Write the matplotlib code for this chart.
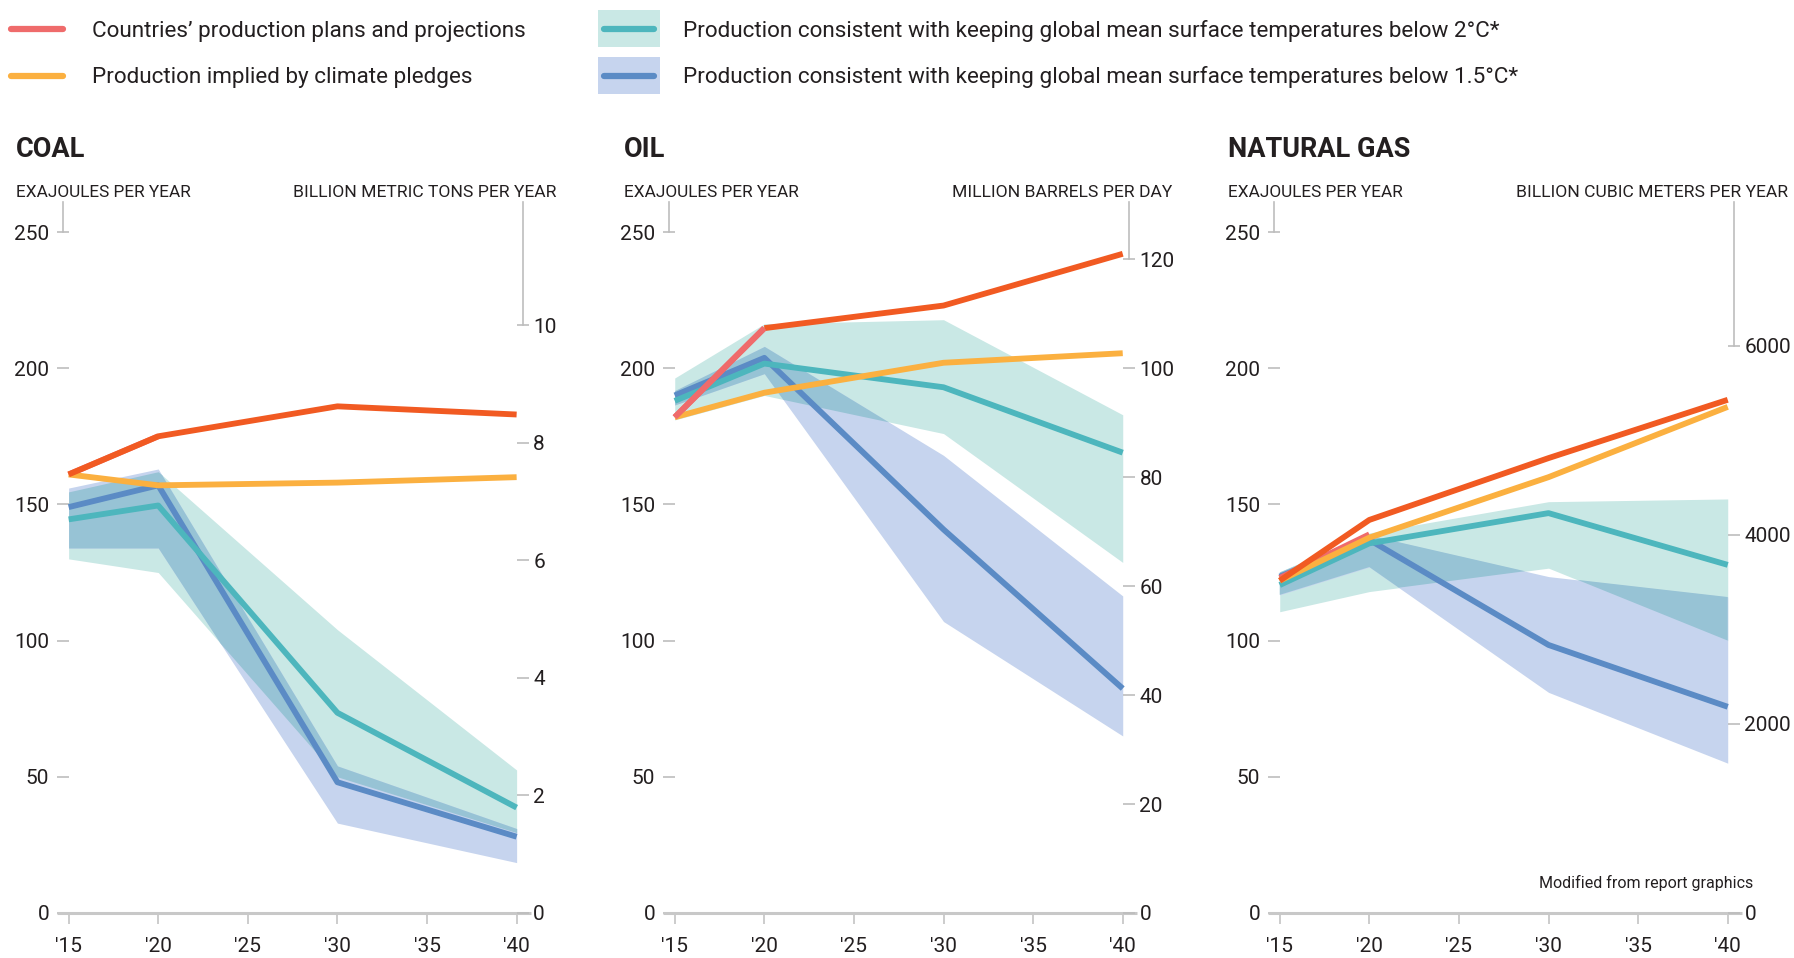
import numpy as np
import matplotlib
matplotlib.use("Agg")
import matplotlib.pyplot as plt
from matplotlib.lines import Line2D
from matplotlib.patches import Rectangle

plt.rcParams['font.family'] = ['Roboto', 'DejaVu Sans']

# ---------------- data ----------------
years = [2015, 2020, 2030, 2040]
hist_years = [2015, 2020]
x_ticks = [2015, 2020, 2025, 2030, 2035, 2040]
x_tick_labels = ["'15", "'20", "'25", "'30", "'35", "'40"]
left_ticks = [0, 50, 100, 150, 200, 250]

# COAL (exajoules per year)
coal_hist = [161, 175]
coal_plans = [161, 175, 186, 183]
coal_pledges = [161, 157, 158, 160]
coal_2c = [144.5, 149.6, 73.5, 38.7]
coal_2c_lo = [130, 125, 50, 29.5]
coal_2c_hi = [154.6, 162, 104, 52.5]
coal_15c = [149, 157, 48, 28]
coal_15c_lo = [134, 134, 33, 18.5]
coal_15c_hi = [156, 163, 54, 31]
coal_right_ticks = [0, 2, 4, 6, 8, 10]
coal_ej_per_unit = 21.57  # EJ per billion metric tons

# OIL
oil_hist = [182, 214.7]
oil_plans = [np.nan, 214.7, 223, 242]
oil_pledges = [182, 191, 202, 205.5]
oil_2c = [188, 201.7, 193, 169]
oil_2c_lo = [181, 190, 176, 128.7]
oil_2c_hi = [196.4, 216.3, 217.8, 182.9]
oil_15c = [190, 203.8, 140.8, 82.4]
oil_15c_lo = [186.5, 198, 107, 65]
oil_15c_hi = [191.8, 208, 168, 116.4]
oil_right_ticks = [0, 20, 40, 60, 80, 100, 120]
oil_ej_per_unit = 2.0  # EJ per million barrels per day

# NATURAL GAS
gas_hist = [123, 139]
gas_plans = [122, 144.3, 167, 188.4]
gas_pledges = [122, 137.8, 160, 185.8]
gas_2c = [120.4, 135.7, 146.8, 127.8]
gas_2c_lo = [110.6, 118, 126.6, 100]
gas_2c_hi = [125.3, 139.5, 151, 152]
gas_15c = [123.5, 137, 98.4, 75.7]
gas_15c_lo = [116.8, 127, 81, 55]
gas_15c_hi = [125, 138.6, 123.5, 116]
gas_right_ticks = [0, 2000, 4000, 6000]
gas_ej_per_unit = 0.0347  # EJ per billion cubic meters

titles = ["COAL", "OIL", "NATURAL GAS"]
right_units = ["BILLION METRIC TONS PER YEAR", "MILLION BARRELS PER DAY",
               "BILLION CUBIC METERS PER YEAR"]
left_unit = "EXAJOULES PER YEAR"
legend_labels = ["Countries\u2019 production plans and projections",
                 "Production implied by climate pledges",
                 "Production consistent with keeping global mean surface temperatures below 2\u00b0C*",
                 "Production consistent with keeping global mean surface temperatures below 1.5\u00b0C*"]
note = "Modified from report graphics"

# ---------------- style ----------------
RED = "#F15A22"
SALMON = "#EF6B6B"
YELLOW = "#FBB040"
TEAL = "#4DB6BD"
BLUE = "#5B8BC5"
TEAL_BAND = "#C9E8E5"
BLUE_BAND = "#C6D4EE"
OVERLAP = "#97C3D5"
GREY = "#BDBDBD"
TXT = "#231F20"

W, H, DPI = 1794, 958, 100
fig = plt.figure(figsize=(W / DPI, H / DPI), dpi=DPI)


def fx(px):
    return px / W


def fy(py):
    return 1 - py / H


panels = [
    dict(hist=coal_hist, plans=coal_plans, pledges=coal_pledges, two=coal_2c,
         two_lo=coal_2c_lo, two_hi=coal_2c_hi, one=coal_15c, one_lo=coal_15c_lo,
         one_hi=coal_15c_hi, rticks=coal_right_ticks, ratio=coal_ej_per_unit),
    dict(hist=oil_hist, plans=oil_plans, pledges=oil_pledges, two=oil_2c,
         two_lo=oil_2c_lo, two_hi=oil_2c_hi, one=oil_15c, one_lo=oil_15c_lo,
         one_hi=oil_15c_hi, rticks=oil_right_ticks, ratio=oil_ej_per_unit),
    dict(hist=gas_hist, plans=gas_plans, pledges=gas_pledges, two=gas_2c,
         two_lo=gas_2c_lo, two_hi=gas_2c_hi, one=gas_15c, one_lo=gas_15c_lo,
         one_hi=gas_15c_hi, rticks=gas_right_ticks, ratio=gas_ej_per_unit),
]

panel_lefts = [62.9, 669, 1274]
label_lefts = [16, 623.5, 1227.5]
label_rights = [556, 1172.6, 1788]
AX_W = 460
AX_TOP, AX_BOT = 232, 913
XLIM = (2014.68, 2040.35)
LW = 4.2
TICK_FS = 15

for i, p in enumerate(panels):
    left = panel_lefts[i]
    ax = fig.add_axes([fx(left), fy(AX_BOT), fx(AX_W), (AX_BOT - AX_TOP) / H])
    ax.set_xlim(*XLIM)
    ax.set_ylim(0, 250)
    for s in ax.spines.values():
        s.set_visible(False)

    # bands
    ax.fill_between(years, p['two_lo'], p['two_hi'], color=TEAL_BAND, lw=0, zorder=1)
    ax.fill_between(years, p['one_lo'], p['one_hi'], color=BLUE_BAND, lw=0, zorder=1.1)
    xs = np.linspace(years[0], years[-1], 2001)
    lo = np.maximum(np.interp(xs, years, p['two_lo']), np.interp(xs, years, p['one_lo']))
    hi = np.minimum(np.interp(xs, years, p['two_hi']), np.interp(xs, years, p['one_hi']))
    ax.fill_between(xs, lo, hi, where=hi > lo, color=OVERLAP, lw=0, zorder=1.2)

    # lines
    kw = dict(lw=LW, solid_capstyle='butt', solid_joinstyle='round')
    ax.plot(years, p['one'], color=BLUE, zorder=3, **kw)
    ax.plot(years, p['two'], color=TEAL, zorder=3.1, **kw)
    ax.plot(hist_years, p['hist'], color=SALMON, zorder=3.2, **kw)
    ax.plot(years, p['pledges'], color=YELLOW, zorder=3.3, **kw)
    ax.plot(years, p['plans'], color=RED, zorder=3.4, **kw)
    if i == 1:
        ax.plot(hist_years, p['hist'], color=SALMON, zorder=3.5, **kw)

    # baseline
    ax.plot([2014.35, 2040.8], [0, 0], color="#C8C8C8", lw=2.2, clip_on=False,
            zorder=2, solid_capstyle='butt')

    # ticks
    ax.set_xticks(x_ticks)
    ax.set_xticklabels(x_tick_labels)
    ax.tick_params(axis='x', direction='out', length=8, width=1.3, color="#C8C8C8",
                   pad=9, labelsize=TICK_FS, labelcolor=TXT)
    ax.set_yticks(left_ticks)
    ax.set_yticklabels([str(v) for v in left_ticks])
    ax.tick_params(axis='y', direction='inout', length=9, width=1.2, color=GREY,
                   pad=5.5, labelsize=TICK_FS, labelcolor=TXT)

    ax2 = ax.twinx()
    ax2.set_ylim(0, 250 / p['ratio'])
    for s in ax2.spines.values():
        s.set_visible(False)
    ax2.set_yticks(p['rticks'])
    ax2.set_yticklabels([str(v) for v in p['rticks']])
    ax2.tick_params(axis='y', direction='inout', length=9, width=1.2, color=GREY,
                    pad=3, labelsize=TICK_FS, labelcolor=TXT)

    # connector lines to the unit labels
    ytop = (AX_BOT - 202) / (AX_BOT - AX_TOP) * 250
    ax.plot([XLIM[0]] * 2, [250, ytop], color=GREY, lw=1.2, clip_on=False)
    ax.plot([XLIM[1]] * 2, [p['rticks'][-1] * p['ratio'], ytop], color=GREY, lw=1.2,
            clip_on=False)

    # titles and unit labels
    fig.text(fx(label_lefts[i]), fy(157), titles[i], fontsize=19.5, fontweight='bold',
             color=TXT, ha='left', va='baseline')
    fig.text(fx(label_lefts[i]), fy(197), left_unit, fontsize=12.4, color=TXT,
             ha='left', va='baseline')
    fig.text(fx(label_rights[i]), fy(197), right_units[i], fontsize=12.6, color=TXT,
             ha='right', va='baseline')

# ---------------- legend ----------------
row_y = [28.6, 75.5]
fig.add_artist(Line2D([fx(11), fx(63)], [fy(row_y[0])] * 2, color=SALMON, lw=4.5,
                      solid_capstyle='round', transform=fig.transFigure))
fig.add_artist(Line2D([fx(11), fx(63)], [fy(row_y[1])] * 2, color=YELLOW, lw=4.5,
                      solid_capstyle='round', transform=fig.transFigure))
for k, (band, line) in enumerate([(TEAL_BAND, TEAL), (BLUE_BAND, BLUE)]):
    yc = row_y[k]
    fig.add_artist(Rectangle((fx(598), fy(yc + 18.5)), fx(62), 37 / H, color=band, lw=0,
                             transform=fig.transFigure))
    fig.add_artist(Line2D([fx(604), fx(654)], [fy(yc)] * 2, color=line, lw=4.5,
                          solid_capstyle='round', transform=fig.transFigure))
LEG_FS = 16.2
fig.text(fx(91.5), fy(37.3), legend_labels[0], fontsize=LEG_FS, color=TXT, va='baseline')
fig.text(fx(91.5), fy(83.3), legend_labels[1], fontsize=LEG_FS, color=TXT, va='baseline')
fig.text(fx(683), fy(37.3), legend_labels[2], fontsize=LEG_FS, color=TXT, va='baseline')
fig.text(fx(683), fy(83.3), legend_labels[3], fontsize=LEG_FS, color=TXT, va='baseline')

fig.text(fx(1753), fy(888), note, fontsize=11.5, color=TXT, ha='right', va='baseline')

fig.savefig("out.png", dpi=DPI)
